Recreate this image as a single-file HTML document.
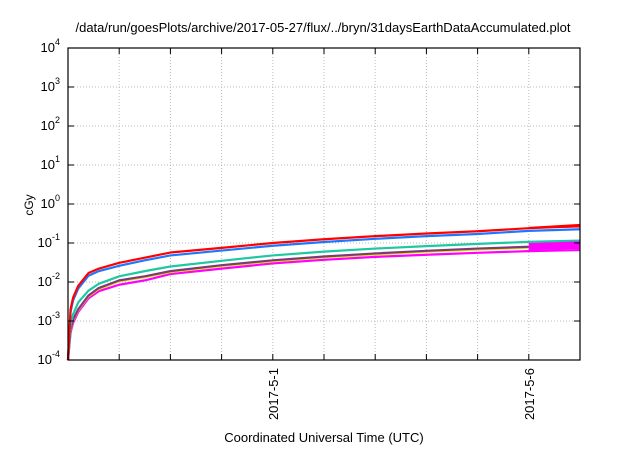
<!DOCTYPE html>
<html><head><meta charset="utf-8"><style>
body{margin:0;background:#fff;}
svg text{font-family:"Liberation Sans",sans-serif;fill:#000;}
</style></head><body>
<svg id="chart" width="640" height="448" xmlns="http://www.w3.org/2000/svg">
<rect width="640" height="448" fill="#fff"/>
<text x="323" y="32" font-size="13" text-anchor="middle">/data/run/goesPlots/archive/2017-05-27/flux/../bryn/31daysEarthDataAccumulated.plot</text>
<text x="0" y="0" font-size="12" text-anchor="middle" transform="translate(33,205) rotate(-90)">cGy</text>
<text x="324" y="442" font-size="13" text-anchor="middle">Coordinated Universal Time (UTC)</text>
<g id="grid"></g><g id="series"></g><g id="axes"></g>
</svg>
<script>
const days=[0,0.05,0.1,0.2,0.4,0.6,1,1.5,2,3,4,5,6,7,8,9,10];
const redVals=[1e-4,0.002,0.004,0.008,0.017,0.022,0.031,0.042,0.057,0.075,0.1,0.125,0.15,0.175,0.2,0.24,0.27];
const blueVals=[1e-4,0.0017,0.0034,0.0068,0.0145,0.019,0.026,0.036,0.048,0.064,0.085,0.106,0.128,0.15,0.17,0.205,0.225];
const tealVals=[1e-4,0.0008,0.0015,0.003,0.006,0.009,0.014,0.019,0.025,0.035,0.048,0.06,0.072,0.083,0.095,0.107,0.115];
const purpleVals=[1e-4,0.0006,0.0011,0.002,0.0045,0.007,0.011,0.014,0.019,0.027,0.036,0.045,0.054,0.063,0.072,0.08,0.085];
const yellowVals=[1e-4,0.00057,0.00105,0.0019,0.0043,0.0066,0.0104,0.0133,0.018,0.0256,0.034,0.043,0.051,0.06,0.068,0.076,0.08];
const magentaVals=[1e-4,0.0005,0.0009,0.0017,0.0038,0.0058,0.0085,0.011,0.016,0.022,0.03,0.037,0.044,0.05,0.056,0.062,0.066];
const bandDays=[9,10];
const redBandLow=[0.235,0.25],redBandHigh=[0.26,0.31];
const magBandLow=[0.065,0.07],magBandHigh=[0.1,0.11];
const yTickExp=[-4,-3,-2,-1,0,1,2,3,4];
const xTickDays=[1,2,3,4,5,6,7,8,9];
const xLabelDays=[4,9];const xLabels=["2017-5-1","2017-5-6"];
const L=68,R=580,T=48,B=360,X0=0,X1=10,Ymin=-4,Ymax=4;
const sx=d=>L+(d-X0)/(X1-X0)*(R-L);
const sy=v=>B-(Math.log10(v)-Ymin)/(Ymax-Ymin)*(B-T);
const NS="http://www.w3.org/2000/svg";
function mk(tag,attrs,parent){const e=document.createElementNS(NS,tag);for(const k in attrs)e.setAttribute(k,attrs[k]);parent.appendChild(e);return e;}
const grid=document.getElementById('grid'),series=document.getElementById('series'),axes=document.getElementById('axes');
yTickExp.forEach(p=>{const y=sy(Math.pow(10,p));
 if(p>Ymin&&p<Ymax){const g=mk('line',{x1:L,x2:R,y1:y,y2:y,stroke:'#bbb','stroke-dasharray':'1,2','stroke-width':1},grid);
 
 }
 const t1=mk('line',{x1:L,x2:L+6,y1:y,y2:y,stroke:'#000'},axes);
 
 
 mk('line',{x1:R-6,x2:R,y1:y,y2:y,stroke:'#000'},axes);
 const tx=mk('text',{x:L-8,y:y+4,'font-size':13,'text-anchor':'end'},axes);
 
 
 tx.textContent='10';const s=mk('tspan',{dy:-7,'font-size':9},tx);s.textContent=String(p);
});
xTickDays.forEach(d=>{const x=sx(d);
 const g=mk('line',{x1:x,x2:x,y1:T,y2:B,stroke:'#bbb','stroke-dasharray':'1,2'},grid);
 
 
 const t=mk('line',{x1:x,x2:x,y1:B,y2:B-6,stroke:'#000'},axes);
 
 
 mk('line',{x1:x,x2:x,y1:T,y2:T+6,stroke:'#000'},axes);
});
xLabelDays.forEach((d,i)=>{const x=sx(d);
 const t=mk('text',{x:0,y:0,'font-size':13,'text-anchor':'end',transform:`translate(${x+5},${B+8}) rotate(-90)`},axes);
 
 
 t.textContent=xLabels[i];
});
function band(lo,hi,color,name){const pts=bandDays.map((d,i)=>sx(d)+','+sy(hi[i])).concat(bandDays.map((d,i)=>[d,i]).reverse().map(([d,i])=>sx(d)+','+sy(lo[i])));
 const p=mk('polygon',{points:pts.join(' '),fill:color},series);
 
 }
function line(vals,color,name){const pts=days.map((d,i)=>sx(d)+','+sy(vals[i])).join(' ');
 const p=mk('polyline',{points:pts,fill:'none',stroke:color,'stroke-width':2.2,'stroke-linejoin':'round'},series);
 
 }
line(magentaVals,'#ff00ff','series-magenta');
line(yellowVals,'#e8e000','series-yellow');
line(purpleVals,'#7a3a7a','series-purple');
line(tealVals,'#1fc8a0','series-teal');
line(blueVals,'#1e78ff','series-blue');
line(redVals,'#ff0000','series-red');
band(magBandLow,magBandHigh,'#ff00ff','band-magenta');
band(redBandLow,redBandHigh,'#ff0000','band-red');
const fr=mk('rect',{x:L,y:T,width:R-L,height:B-T,fill:'none',stroke:'#000','stroke-width':1.2},axes);


</script>
</body></html>
